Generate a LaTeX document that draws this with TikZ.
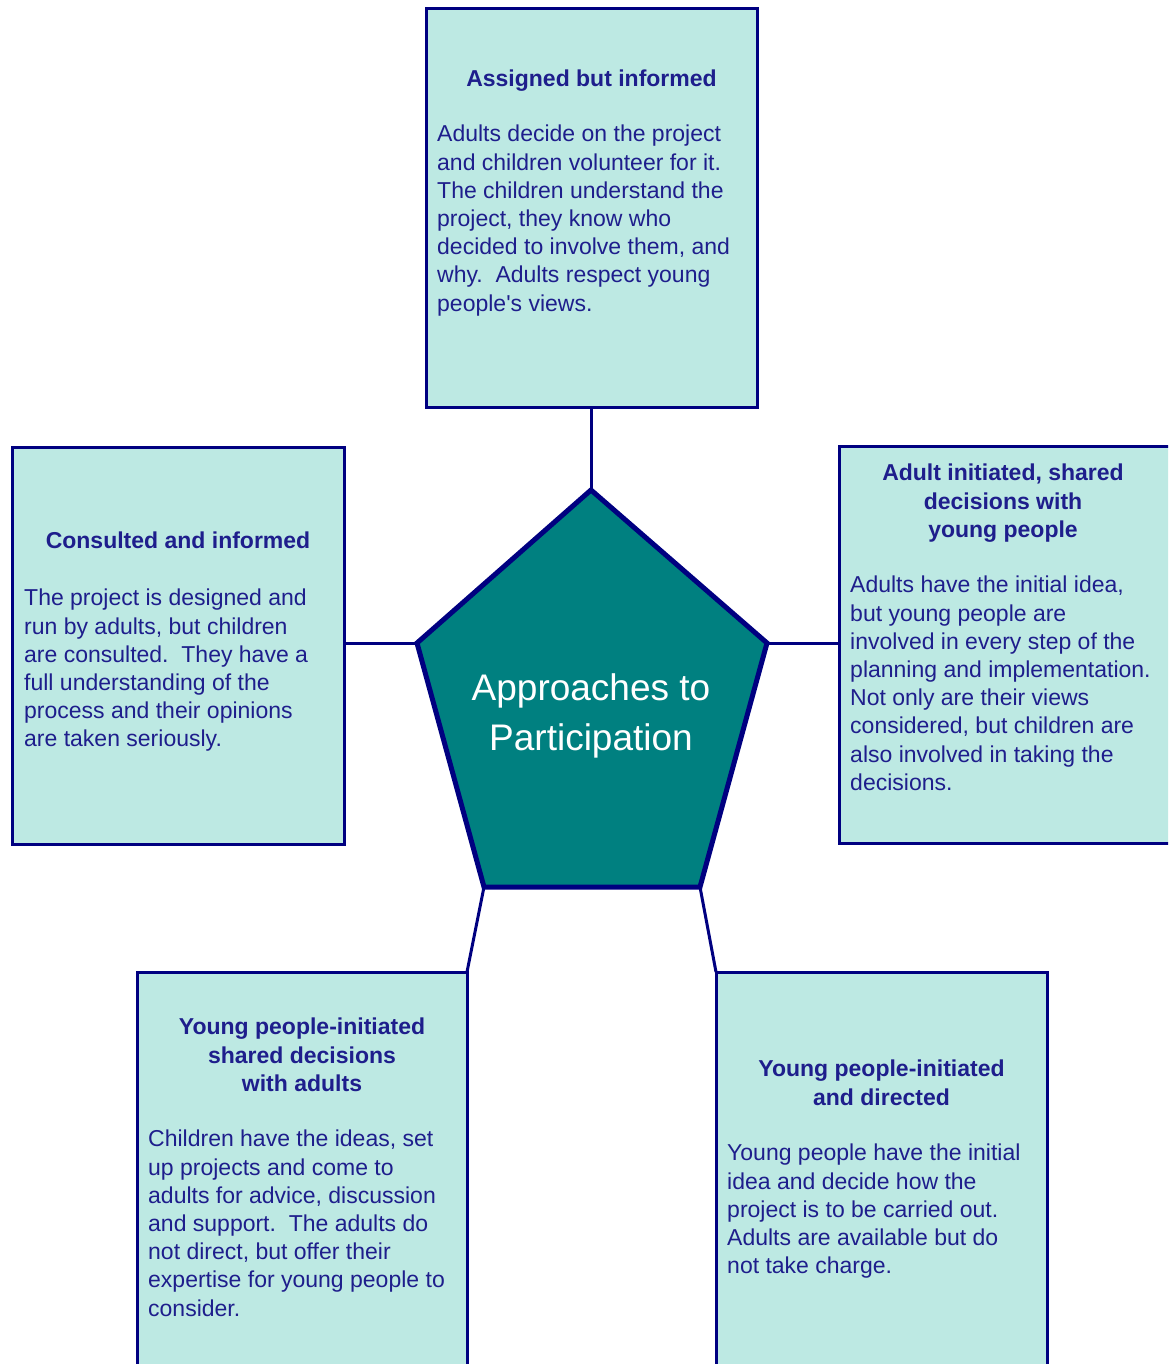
\documentclass[tikz,border=0pt]{standalone}
\usepackage{fontspec}
\setmainfont{Liberation Sans}
\usepackage{xcolor}
\usetikzlibrary{positioning}
\definecolor{navyline}{HTML}{000080}
\definecolor{navytext}{HTML}{1E1E8C}
\definecolor{boxfill}{HTML}{BDE9E3}
\definecolor{hubfill}{HTML}{008080}

\begin{document}
\begin{tikzpicture}[
  x=1pt, y=-1pt,
  box/.style={draw=navyline, line width=3pt, fill=boxfill, rectangle, anchor=north west, outer sep=0pt},
  heading/.style={font=\bfseries\fontsize{23}{28.2}\selectfont, text=navytext, align=center, inner sep=0pt},
  body/.style={font=\fontsize{23}{28.2}\selectfont, text=navytext, align=left, inner sep=0pt},
  link/.style={draw=navyline, line width=3pt}
    ]

\useasboundingbox (0,0) rectangle (1168,1364);
\clip (0,0) rectangle (1168,1364);

\node[box, minimum width=331pt, minimum height=398pt] (tb) at (426,9) {};
\node[heading, below=61pt of tb.north] (tbh) {Assigned but informed};
\node[body, below right=116pt and 11pt of tb.north west] (tbt) {Adults decide on the project\\and children volunteer for it.\\The children understand the\\project, they know who\\decided to involve them, and\\why.\ \ Adults respect young\\people\textquotesingle s views.};

\node[box, minimum width=332pt, minimum height=397pt] (lb) at (12,447) {};
\node[heading, below=85pt of lb.north] (lbh) {Consulted and informed};
\node[body, below right=142pt and 12pt of lb.north west] (lbt) {The project is designed and\\run by adults, but children\\are consulted.\ \ They have a\\full understanding of the\\process and their opinions\\are taken seriously.};

\node[box, minimum width=340pt, minimum height=397pt] (rb) at (839,446) {};
\node[heading, below=18pt of rb.north, xshift=-6pt] (rbh) {Adult initiated, shared\\decisions with\\young people};
\node[body, below right=130pt and 11pt of rb.north west] (rbt) {Adults have the initial idea,\\but young people are\\involved in every step of the\\planning and implementation.\\Not only are their views\\considered, but children are\\also involved in taking the\\decisions.};

\node[box, minimum width=330pt, minimum height=420pt] (bl) at (137,972) {};
\node[heading, below=46pt of bl.north] (blh) {Young people-initiated\\shared decisions\\with adults};
\node[body, below right=158pt and 11pt of bl.north west] (blt) {Children have the ideas, set\\up projects and come to\\adults for advice, discussion\\and support.\ \ The adults do\\not direct, but offer their\\expertise for young people to\\consider.};

\node[box, minimum width=331pt, minimum height=420pt] (br) at (716,972) {};
\node[heading, below=88pt of br.north] (brh) {Young people-initiated\\and directed};
\node[body, below right=172pt and 11pt of br.north west] (brt) {Young people have the initial\\idea and decide how the\\project is to be carried out.\\Adults are available but do\\not take charge.};

\coordinate (p1) at (591,490);
\coordinate (p2) at (767,643);
\coordinate (p3) at (700,887);
\coordinate (p4) at (484,887);
\coordinate (p5) at (417,643);

\path (p1 |- tb.south) edge[link] (p1)
(lb.east |- p5) edge[link] (p5)
(rb.west |- p2) edge[link] (p2)
(p4) edge[link] (bl.north east)
(p3) edge[link] (br.north west);

\draw[navyline, line width=5pt, fill=hubfill] (p1) -- (p2) -- (p3) -- (p4) -- (p5) -- cycle;
\node[font=\fontsize{37}{50}\selectfont, text=white, align=center] (hub) at (591,716) {Approaches to\\Participation};

\end{tikzpicture}
\end{document}
